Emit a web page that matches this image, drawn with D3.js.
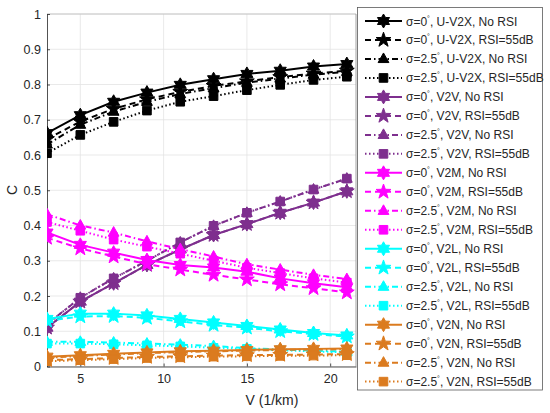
<!DOCTYPE html>
<html>
<head>
<meta charset="utf-8">
<script src="https://cdn.jsdelivr.net/npm/d3@7"></script>
<style>
  body { margin: 0; background: #fff; }
  text { font-family: "Liberation Sans", Arial, sans-serif; fill: #262626; }
</style>
</head>
<body>
<div id="chart-area"></div>
<script>
// x values (V in 1/km)
const speeds = [3, 5, 7, 9, 11, 13, 15, 17, 19, 21]
const xTicks = [5, 10, 15, 20]
const yTicks = [0, 0.1, 0.2, 0.3, 0.4, 0.5, 0.6, 0.7, 0.8, 0.9, 1]

// values
const uv2x_s0_noRsi  = [0.662, 0.713, 0.751, 0.777, 0.799, 0.815, 0.830, 0.839, 0.851, 0.858]
const uv2x_s0_rsi    = [0.645, 0.695, 0.731, 0.758, 0.779, 0.796, 0.809, 0.821, 0.831, 0.839]
const uv2x_s25_noRsi = [0.630, 0.686, 0.723, 0.751, 0.773, 0.790, 0.805, 0.817, 0.828, 0.836]
const uv2x_s25_rsi   = [0.605, 0.657, 0.694, 0.726, 0.751, 0.767, 0.784, 0.799, 0.813, 0.822]

const v2v_s0_noRsi  = [0.110, 0.184, 0.236, 0.288, 0.332, 0.373, 0.404, 0.436, 0.465, 0.497]
const v2v_s0_rsi    = [0.110, 0.184, 0.236, 0.288, 0.332, 0.373, 0.404, 0.436, 0.465, 0.497]
const v2v_s25_noRsi = [0.120, 0.195, 0.250, 0.300, 0.352, 0.399, 0.436, 0.468, 0.502, 0.533]
const v2v_s25_rsi   = [0.120, 0.195, 0.250, 0.300, 0.352, 0.399, 0.436, 0.468, 0.502, 0.533]

const v2m_s0_noRsi  = [0.380, 0.345, 0.323, 0.302, 0.288, 0.281, 0.269, 0.250, 0.236, 0.225]
const v2m_s0_rsi    = [0.365, 0.335, 0.312, 0.290, 0.275, 0.260, 0.247, 0.233, 0.222, 0.210]
const v2m_s25_noRsi = [0.432, 0.400, 0.380, 0.355, 0.333, 0.312, 0.290, 0.275, 0.260, 0.248]
const v2m_s25_rsi   = [0.410, 0.385, 0.360, 0.340, 0.320, 0.300, 0.280, 0.265, 0.250, 0.238]

const v2l_s0_noRsi  = [0.135, 0.150, 0.150, 0.145, 0.135, 0.125, 0.115, 0.105, 0.095, 0.088]
const v2l_s0_rsi    = [0.130, 0.142, 0.143, 0.138, 0.128, 0.118, 0.110, 0.100, 0.092, 0.085]
const v2l_s25_noRsi = [0.070, 0.070, 0.068, 0.065, 0.062, 0.058, 0.052, 0.048, 0.045, 0.042]
const v2l_s25_rsi   = [0.065, 0.065, 0.063, 0.060, 0.057, 0.053, 0.050, 0.046, 0.043, 0.040]

const v2n_s0_noRsi  = [0.028, 0.032, 0.036, 0.040, 0.043, 0.045, 0.047, 0.049, 0.050, 0.051]
const v2n_s0_rsi    = [0.018, 0.021, 0.024, 0.027, 0.029, 0.031, 0.032, 0.033, 0.034, 0.035]
const v2n_s25_noRsi = [0.025, 0.030, 0.034, 0.038, 0.041, 0.043, 0.045, 0.047, 0.048, 0.049]
const v2n_s25_rsi   = [0.015, 0.018, 0.021, 0.024, 0.026, 0.028, 0.029, 0.030, 0.031, 0.032]

const linkNames = ["U-V2X", "V2V", "V2M", "V2L", "V2N"]
const linkColors = ["#000000", "#7E2F8E", "#FF00FF", "#00FFFF", "#DB7B1F"]
const caseNames = [["0", "No RSI"], ["0", "RSI=55dB"], ["2.5", "No RSI"], ["2.5", "RSI=55dB"]]
const seriesValues = [
    [uv2x_s0_noRsi, uv2x_s0_rsi, uv2x_s25_noRsi, uv2x_s25_rsi],
    [v2v_s0_noRsi, v2v_s0_rsi, v2v_s25_noRsi, v2v_s25_rsi],
    [v2m_s0_noRsi, v2m_s0_rsi, v2m_s25_noRsi, v2m_s25_rsi],
    [v2l_s0_noRsi, v2l_s0_rsi, v2l_s25_noRsi, v2l_s25_rsi],
    [v2n_s0_noRsi, v2n_s0_rsi, v2n_s25_noRsi, v2n_s25_rsi]
]

// custom marker shapes, size = outer radius
const starPath = (points, ratio) => ({
    draw(ctx, r) {
        for (let i = 0; i < points * 2; i++) {
            const a = -Math.PI / 2 + i * Math.PI / points
            const rr = i % 2 ? r * ratio : r
            i ? ctx.lineTo(rr * Math.cos(a), rr * Math.sin(a)) : ctx.moveTo(rr * Math.cos(a), rr * Math.sin(a))
        }
        ctx.closePath()
    }
})
const hexagram = starPath(6, 0.577)
const pentagram = starPath(5, 0.40)
const triangle = {
    draw(ctx, r) {
        ctx.moveTo(0, -r)
        ctx.lineTo(r * 0.9, r * 0.6)
        ctx.lineTo(-r * 0.9, r * 0.6)
        ctx.closePath()
    }
}
const square = {
    draw(ctx, r) { ctx.rect(-r, -r, 2 * r, 2 * r) }
}
const caseStyles = [
    { dash: null, shape: hexagram, r: 7 },
    { dash: "6,4", shape: pentagram, r: 7.8 },
    { dash: "6,3,1.5,3", shape: triangle, r: 6 },
    { dash: "1.5,2.5", shape: square, r: 4.3 }
]

const W = 550, H = 413
const pLeft = 47, pRight = 356, pTop = 14, pBottom = 366.5

const svg = d3.select("#chart-area")
    .append("svg")
    .attr("width", W)
    .attr("height", H)

const x = d3.scaleLinear().domain([3, 21.55]).range([pLeft, pRight])
const y = d3.scaleLinear().domain([0, 1]).range([pBottom, pTop])

// grid
svg.append("g").selectAll("line").data(xTicks).enter().append("line")
    .attr("x1", d => x(d)).attr("x2", d => x(d))
    .attr("y1", pTop).attr("y2", pBottom)
    .attr("stroke", "#e3e3e3").attr("stroke-width", 0.8)
svg.append("g").selectAll("line").data(yTicks).enter().append("line")
    .attr("x1", pLeft).attr("x2", pRight)
    .attr("y1", d => y(d)).attr("y2", d => y(d))
    .attr("stroke", "#e3e3e3").attr("stroke-width", 0.8)

// box top/right
svg.append("line").attr("x1", pLeft).attr("x2", pRight).attr("y1", pTop).attr("y2", pTop)
    .attr("stroke", "#bdbdbd").attr("stroke-width", 0.8)
svg.append("line").attr("x1", pRight).attr("x2", pRight).attr("y1", pTop).attr("y2", pBottom)
    .attr("stroke", "#8a8a8a").attr("stroke-width", 0.8)

// axes
const xAxisCall = d3.axisBottom(x).tickValues(xTicks).tickSizeInner(-3).tickSizeOuter(0).tickPadding(8)
const xAxis = svg.append("g")
    .attr("transform", `translate(0, ${pBottom})`)
    .call(xAxisCall)
const yAxisCall = d3.axisLeft(y).tickValues(yTicks).tickFormat(d => d3.format("~g")(d)).tickSizeInner(-3).tickSizeOuter(0).tickPadding(6)
const yAxis = svg.append("g")
    .attr("transform", `translate(${pLeft}, 0)`)
    .call(yAxisCall)
;[xAxis, yAxis].forEach(a => {
    a.select(".domain").attr("stroke", "#262626").attr("stroke-width", 0.8)
    a.selectAll(".tick line").attr("stroke", "#262626").attr("stroke-width", 0.8)
    a.selectAll("text").attr("font-size", 12.5).attr("fill", "#262626")
        .style("font-family", "'Liberation Sans', Arial, sans-serif")
})

svg.append("text")
    .attr("x", 272).attr("y", 405)
    .attr("text-anchor", "middle")
    .attr("font-size", 14)
    .text("V (1/km)")
svg.append("text")
    .attr("transform", `translate(17, 190) rotate(-90)`)
    .attr("text-anchor", "middle")
    .attr("font-size", 14)
    .text("C")

// series
svg.append("clipPath").attr("id", "plot-clip")
    .append("rect").attr("x", pLeft).attr("y", pTop - 8).attr("width", pRight - pLeft).attr("height", pBottom - pTop + 16)

const plot = svg.append("g").attr("clip-path", "url(#plot-clip)")
const line = d3.line().x((d, i) => x(speeds[i])).y(d => y(d))

const legendItems = []
linkNames.forEach((name, li) => {
    caseNames.forEach((cs, ci) => {
        const color = linkColors[li]
        const st = caseStyles[ci]
        const vals = seriesValues[li][ci]
        const g = plot.append("g")
        g.append("path")
            .attr("d", line(vals))
            .attr("fill", "none")
            .attr("stroke", color)
            .attr("stroke-width", 2)
            .attr("stroke-dasharray", st.dash)
        g.selectAll("path.mark").data(vals).enter().append("path")
            .attr("class", "mark")
            .attr("transform", (d, i) => `translate(${x(speeds[i])}, ${y(d)})`)
            .attr("d", d3.symbol().type(st.shape).size(st.r))
            .attr("fill", color)
            .attr("stroke", color)
            .attr("stroke-width", 1)
        legendItems.push({ color, st, sigma: cs[0], link: name, rsi: cs[1] })
    })
})

// legend
const legend = svg.append("g")
legend.append("rect")
    .attr("x", 357.5).attr("y", 7.5).attr("width", 185).attr("height", 382.5)
    .attr("fill", "#fff").attr("stroke", "#5a5a5a").attr("stroke-width", 0.8)

const rows = legend.selectAll("g.row").data(legendItems).enter().append("g")
    .attr("class", "row")
    .attr("transform", (d, i) => `translate(0, ${21 + i * 18.98})`)
rows.append("line")
    .attr("x1", 365).attr("x2", 402)
    .attr("stroke", d => d.color)
    .attr("stroke-width", 2)
    .attr("stroke-dasharray", d => d.st.dash)
rows.append("path")
    .attr("transform", "translate(383.5, 0)")
    .attr("d", d => d3.symbol().type(d.st.shape).size(d.st.r)())
    .attr("fill", d => d.color)
    .attr("stroke", d => d.color)
const labels = rows.append("text")
    .attr("x", 406).attr("y", 4.5)
    .attr("font-size", 12)
labels.append("tspan").text(d => "σ=" + d.sigma)
labels.append("tspan").attr("dy", -5).attr("font-size", 7).text("°")
labels.append("tspan").attr("dy", 5).text(d => ", " + d.link + ", " + d.rsi)
</script>
</body>
</html>
